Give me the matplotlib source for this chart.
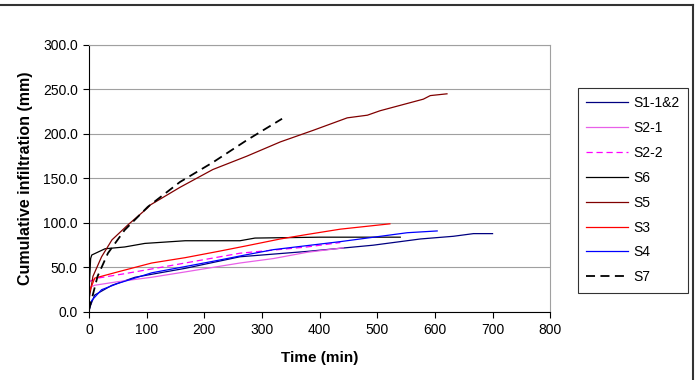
import matplotlib
matplotlib.use("Agg")
import matplotlib.pyplot as plt
from matplotlib.lines import Line2D

plt.rcParams['font.family'] = ['Liberation Sans', 'DejaVu Sans']

# values (time in min, infiltration in mm)
s1_t = [0, 2, 10, 40, 80, 167, 262, 378, 493, 575, 632, 667, 700]
s1_v = [0, 6, 19, 30, 39, 49, 62, 68, 75, 82, 85, 88, 88]

s21_t = [0, 10, 50, 109, 167, 262, 320, 378, 441]
s21_v = [27, 30, 34, 39, 45, 55, 60, 67, 72]

s22_t = [0, 15, 62, 115, 262, 378, 436]
s22_v = [34, 38, 43, 49, 66, 73, 78]

s6_t = [0, 3, 5, 28, 62, 97, 167, 262, 288, 400, 540]
s6_v = [20, 60, 64, 71, 73, 77, 80, 80, 83, 84, 84]

s5_t = [0, 7, 22, 40, 68, 102, 106, 158, 215, 274, 332, 389, 448, 483, 505, 580, 592, 621]
s5_v = [13, 40, 62, 81, 98, 117, 120, 140, 160, 175, 191, 204, 218, 221, 226, 239, 243, 245]

s3_t = [0, 10, 50, 109, 167, 224, 271, 332, 378, 436, 522]
s3_v = [21, 38, 45, 55, 61, 68, 74, 82, 87, 93, 99]

s4_t = [0, 5, 22, 50, 109, 167, 224, 271, 320, 436, 552, 604]
s4_v = [2, 13, 25, 32, 44, 51, 58, 64, 70, 79, 89, 91]

s7_t = [0, 15, 33, 62, 102, 158, 215, 274, 335]
s7_v = [2, 40, 66, 92, 118, 146, 168, 193, 217]

x_ticks = [0, 100, 200, 300, 400, 500, 600, 700, 800]
y_ticks = [0, 50, 100, 150, 200, 250, 300]

fig = plt.figure(figsize=(7, 3.8), dpi=100)
ax = fig.add_axes([0.127, 0.179, 0.659, 0.703])

lw = 0.9
ax.plot(s1_t, s1_v, color='#000080', lw=lw, label='S1-1&2')
ax.plot(s21_t, s21_v, color='#E860E8', lw=lw, label='S2-1')
ax.plot(s22_t, s22_v, color='#FF00FF', lw=lw, ls=(0, (5, 3)), label='S2-2')
ax.plot(s6_t, s6_v, color='black', lw=lw, label='S6')
ax.plot(s5_t, s5_v, color='#800000', lw=lw, label='S5')
ax.plot(s3_t, s3_v, color='#FF0000', lw=lw, label='S3')
ax.plot(s4_t, s4_v, color='#0000FF', lw=lw, label='S4')
ax.plot(s7_t, s7_v, color='black', lw=1.3, ls=(0, (5, 3)), label='S7')

ax.set_xlim(0, 800)
ax.set_ylim(0, 300)
ax.set_xticks(x_ticks)
ax.set_yticks(y_ticks)
ax.set_yticklabels([f'{v:.1f}' for v in y_ticks])
ax.tick_params(labelsize=10, direction='out', length=4, width=0.8, pad=4)
ax.yaxis.grid(True, color='#a0a0a0', lw=0.8)
ax.set_axisbelow(True)
for side in ['top', 'right']:
    ax.spines[side].set_color('#a0a0a0')
    ax.spines[side].set_linewidth(0.8)
for side in ['left', 'bottom']:
    ax.spines[side].set_linewidth(0.8)

ax.set_xlabel('Time (min)', fontsize=11, fontweight='bold', labelpad=10)
ax.set_ylabel('Cumulative infiltration (mm)', fontsize=11.5, fontweight='bold', labelpad=7)

leg = fig.legend(loc='upper left', bbox_to_anchor=(578 / 700, 1 - 88 / 380),
                 frameon=True, fancybox=False, edgecolor='black', fontsize=10,
                 handlelength=3.0, labelspacing=0.78, borderpad=0.6, handletextpad=0.4,
                 borderaxespad=0)
leg.get_frame().set_linewidth(0.8)

# outer chart border (top and right edges visible)
top = 1 - 5 / 380
right = 693 / 700
fig.add_artist(Line2D([0, right], [top, top], transform=fig.transFigure, color='#333333', lw=1.5))
fig.add_artist(Line2D([right, right], [0, top], transform=fig.transFigure, color='#333333', lw=1.5))

fig.savefig('out.png', dpi=100)
